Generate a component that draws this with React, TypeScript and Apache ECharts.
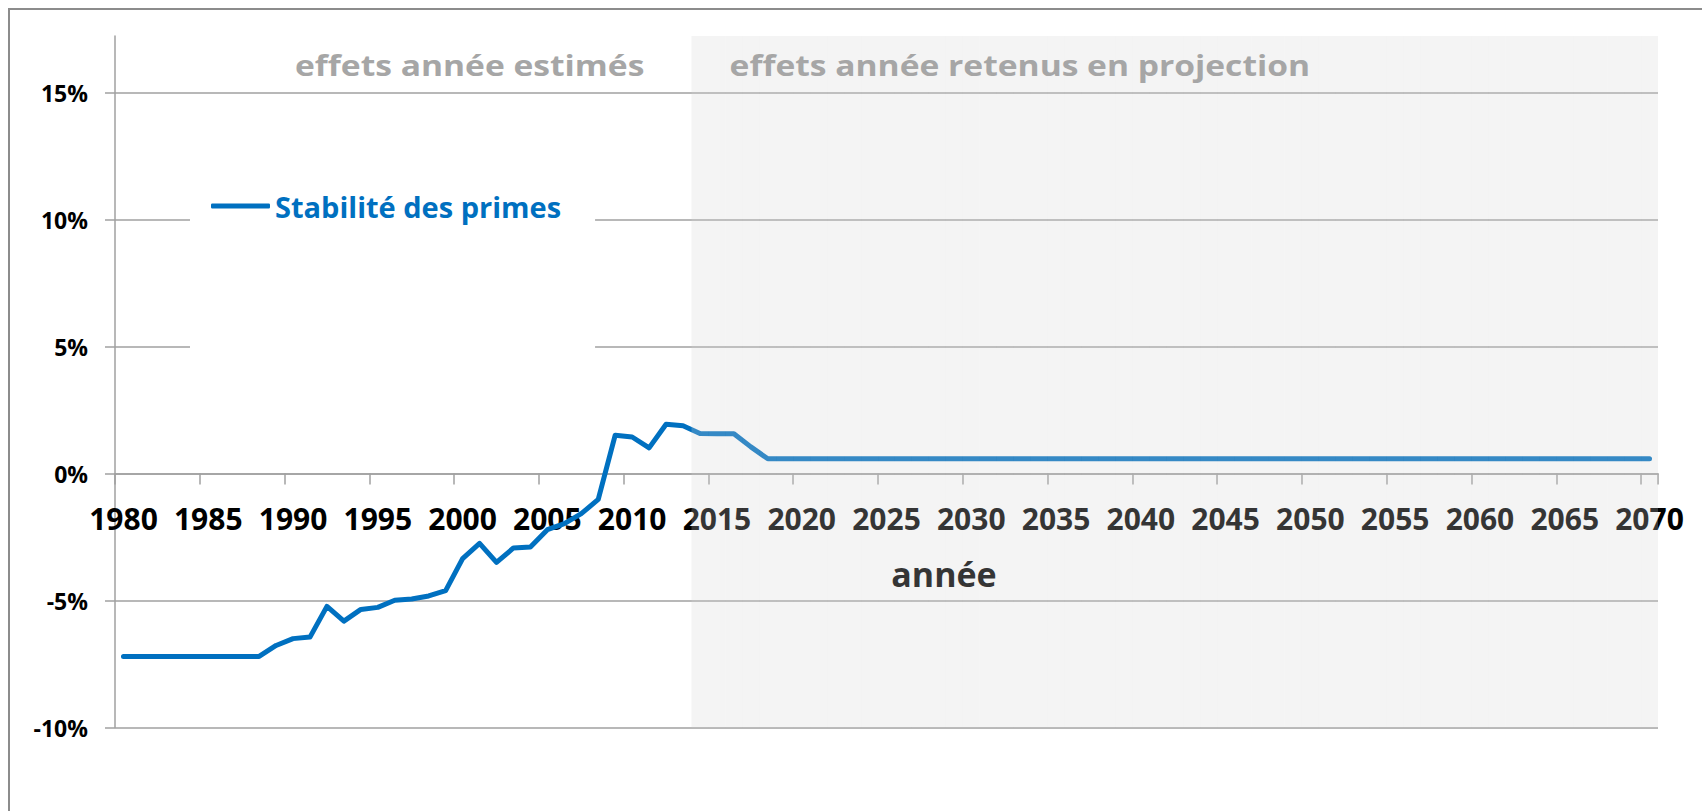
import React, { useEffect, useRef } from 'react';
import * as echarts from 'echarts';

// ---- data ----
const YEARS: string[] = Array.from({ length: 91 }, (_, i) => String(1980 + i));

const STABILITE: number[] = [
  // 1980-1989
  -7.2, -7.2, -7.2, -7.2, -7.2, -7.2, -7.2, -7.2, -7.2, -6.77,
  // 1990-1999
  -6.5, -6.44, -5.23, -5.81, -5.35, -5.27, -4.99, -4.94, -4.82, -4.61,
  // 2000-2009
  -3.35, -2.75, -3.5, -2.93, -2.89, -2.21, -1.97, -1.58, -1.02, 1.51,
  // 2010-2019
  1.44, 1.01, 1.94, 1.88, 1.58, 1.57, 1.57, 1.05, 0.58, 0.58,
  // 2020-2029
  0.58, 0.58, 0.58, 0.58, 0.58, 0.58, 0.58, 0.58, 0.58, 0.58,
  // 2030-2039
  0.58, 0.58, 0.58, 0.58, 0.58, 0.58, 0.58, 0.58, 0.58, 0.58,
  // 2040-2049
  0.58, 0.58, 0.58, 0.58, 0.58, 0.58, 0.58, 0.58, 0.58, 0.58,
  // 2050-2059
  0.58, 0.58, 0.58, 0.58, 0.58, 0.58, 0.58, 0.58, 0.58, 0.58,
  // 2060-2069
  0.58, 0.58, 0.58, 0.58, 0.58, 0.58, 0.58, 0.58, 0.58, 0.58,
  // 2070
  0.58,
];

const Y_TICKS: number[] = [-10, -5, 0, 5, 10, 15];
const Y_MIN = -10;
const Y_MAX = 17.23;
const PROJECTION_START = 2014;

const SERIES_NAME = 'Stabilité des primes';
const LABEL_ESTIMATED = 'effets année estimés';
const LABEL_PROJECTED = 'effets année retenus en projection';
const X_NAME = 'année';

const FONT = '"Open Sans", "Noto Sans", "DejaVu Sans", sans-serif';
const AXIS_GRAY = '#a0a0a0';

const CHART_W = 1702;
const CHART_H = 811;
const GRID_TOP = 36;
const GRID_BOTTOM = 83.5;

export default function App() {
  const ref = useRef<HTMLDivElement>(null);

  useEffect(() => {
    if (!ref.current) return;
    const chart = echarts.init(ref.current, undefined, { renderer: 'svg' });

    const shade = YEARS.map((y) => (Number(y) >= PROJECTION_START ? 1 : null));

    // place the category axis on the 0 value line of the value axis
    const gridH = CHART_H - GRID_TOP - GRID_BOTTOM;
    const zeroOffset = -((0 - Y_MIN) / (Y_MAX - Y_MIN)) * gridH;

    const option: any = {
      animation: false,
      backgroundColor: '#ffffff',
      grid: {
        left: 115,
        right: 44,
        top: GRID_TOP,
        bottom: GRID_BOTTOM,
        containLabel: false,
        outerBoundsMode: 'none',
      },
      legend: {
        data: [SERIES_NAME],
        left: 190,
        top: 160,
        padding: [31, 34, 158, 21],
        backgroundColor: '#ffffff',
        icon: 'roundRect',
        itemWidth: 59,
        itemHeight: 5,
        selectedMode: false,
        textStyle: {
          color: '#0070C0',
          fontFamily: FONT,
          fontWeight: 'bold',
          fontSize: 29,
          lineHeight: 30,
        },
      },
      xAxis: {
        type: 'category',
        data: YEARS,
        boundaryGap: true,
        position: 'bottom',
        offset: zeroOffset,
        axisLine: {
          show: true,
          onZero: false,
          lineStyle: { color: AXIS_GRAY, width: 1.5 },
        },
        axisTick: { show: true, interval: 4, length: 11, lineStyle: { color: AXIS_GRAY, width: 1.5 } },
        axisLabel: {
          interval: 4,
          margin: 29,
          color: '#000000',
          fontFamily: FONT,
          fontWeight: 'bold',
          fontSize: 30,
          lineHeight: 32,
        },
        splitLine: { show: false },
        name: X_NAME,
        nameLocation: 'middle',
        nameGap: 83,
        nameTextStyle: {
          color: '#000000',
          fontFamily: FONT,
          fontWeight: 'bold',
          fontSize: 34,
          lineHeight: 34,
          padding: [0, 0, 0, 115],
        },
      },
      yAxis: [
        {
          type: 'value',
          min: Y_MIN,
          max: Y_MAX,
          interval: 5,
          axisLine: { show: true, onZero: false, lineStyle: { color: AXIS_GRAY, width: 1.5 } },
          axisTick: { show: true, length: 10, customValues: Y_TICKS, lineStyle: { color: AXIS_GRAY, width: 1.5 } },
          axisLabel: {
            customValues: Y_TICKS,
            formatter: (v: number) => `${v}%`,
            margin: 27,
            color: '#000000',
            fontFamily: FONT,
            fontWeight: 'bold',
            fontSize: 23,
          },
          splitLine: { show: true, lineStyle: { color: AXIS_GRAY, width: 1.5 } },
        },
        {
          type: 'value',
          min: 0,
          max: 1,
          show: false,
          splitLine: { show: false },
          axisLine: { show: false, onZero: false },
        },
      ],
      series: [
        {
          type: 'line',
          name: SERIES_NAME,
          data: STABILITE,
          color: '#0070C0',
          itemStyle: { color: '#0070C0' },
          symbol: 'none',
          showSymbol: false,
          lineStyle: { color: '#0070C0', width: 5, cap: 'round', join: 'round' },
          z: 2,
          silent: true,
        },
        {
          type: 'bar',
          name: 'projection',
          yAxisIndex: 1,
          data: shade,
          barCategoryGap: '0%',
          barGap: '0%',
          itemStyle: { color: 'rgba(210,210,210,0.25)' },
          z: 3,
          silent: true,
        },
      ],
      graphic: [
        {
          type: 'rect',
          shape: { x: 9, y: 9, width: 1800, height: 900 },
          style: { fill: 'none', stroke: '#8c8c8c', lineWidth: 2 },
          silent: true,
          z: 100,
        },
        {
          type: 'text',
          x: 295,
          y: 64.8,
          scaleX: 1.2,
          style: {
            text: LABEL_ESTIMATED,
            fill: '#a6a6a6',
            font: `bold 28px ${FONT}`,
            align: 'left',
            verticalAlign: 'middle',
          },
          z: 100,
        },
        {
          type: 'text',
          x: 729.6,
          y: 64.8,
          scaleX: 1.2,
          style: {
            text: LABEL_PROJECTED,
            fill: '#a6a6a6',
            font: `bold 28px ${FONT}`,
            align: 'left',
            verticalAlign: 'middle',
          },
          z: 100,
        },
      ],
    };

    chart.setOption(option);
    return () => chart.dispose();
  }, []);

  return (
    <div
      ref={ref}
      style={{ position: 'fixed', left: 0, top: 0, width: CHART_W, height: CHART_H, background: '#ffffff' }}
    />
  );
}
